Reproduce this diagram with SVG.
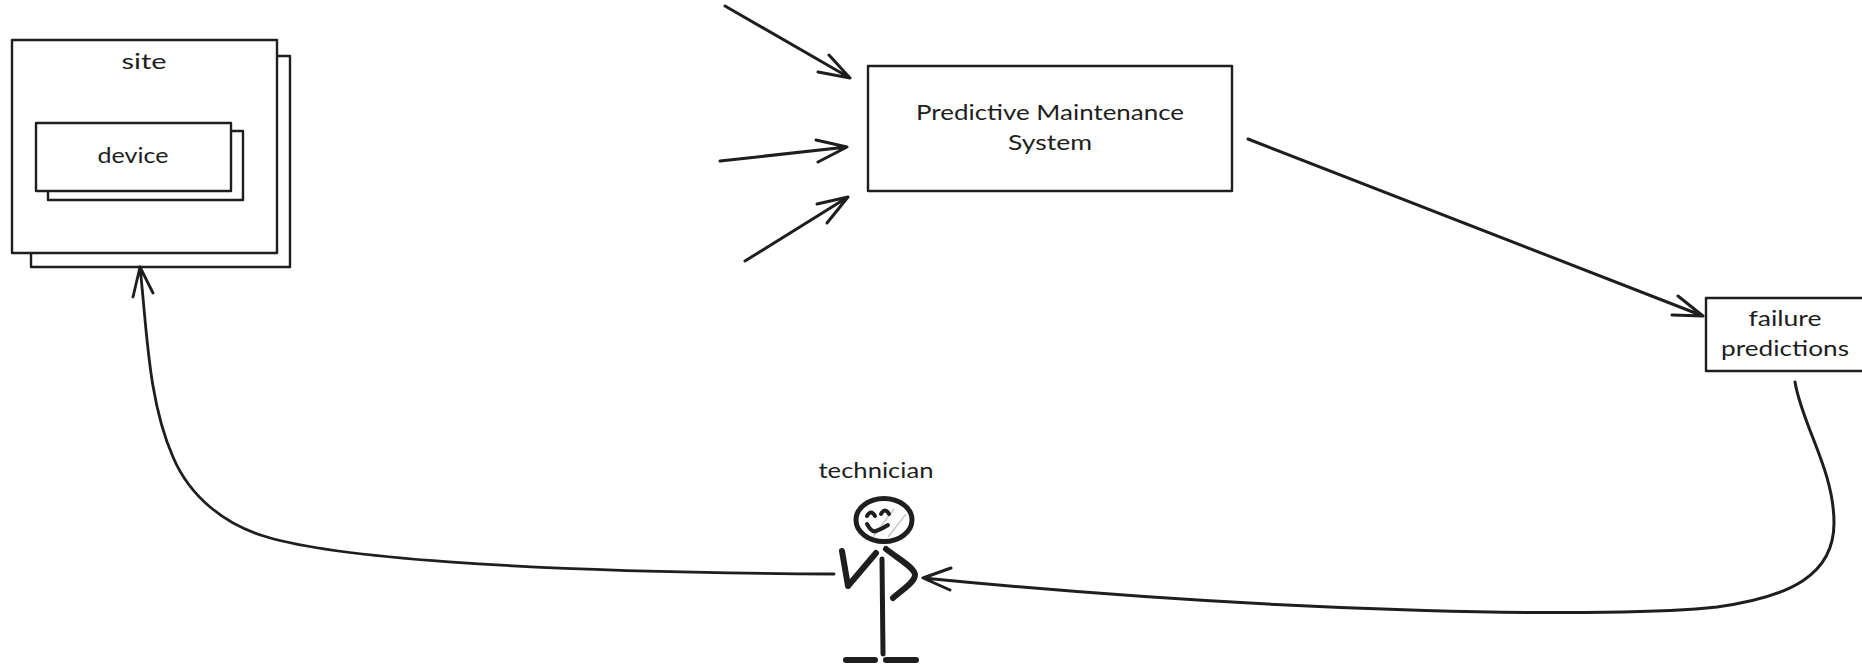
<svg xmlns="http://www.w3.org/2000/svg" width="1862" height="666" viewBox="0 0 1862 666">
<style>
.box{fill:#fff;stroke:#1e1e1e;stroke-width:2.4;stroke-linejoin:round}
.t{font-family:"Lato","Noto Sans",sans-serif;font-size:22px;fill:#1e1e1e;text-anchor:middle}
.c{fill:none;stroke:#1e1e1e;stroke-linecap:round;stroke-linejoin:round}
.fig{fill:none;stroke:#1e1e1e;stroke-width:6;stroke-linecap:round;stroke-linejoin:round}
</style>
<rect width="1862" height="666" fill="#fff"/>
<g id="site">
<rect class="box" x="31" y="56" width="259" height="211"/>
<rect class="box" x="12" y="40" width="265" height="213"/>
<text class="t" x="144" y="69" textLength="45" lengthAdjust="spacingAndGlyphs">site</text>
</g>
<g id="device">
<rect class="box" x="48" y="131" width="195" height="69"/>
<rect class="box" x="36" y="123" width="195" height="68"/>
<text class="t" x="133" y="163" textLength="71" lengthAdjust="spacingAndGlyphs">device</text>
</g>
<g id="system">
<rect class="box" x="868" y="66" width="364" height="125"/>
<text class="t" x="1050" y="120" textLength="268" lengthAdjust="spacingAndGlyphs">Predictive Maintenance</text>
<text class="t" x="1050" y="150" textLength="84" lengthAdjust="spacingAndGlyphs">System</text>
</g>
<g id="failure-predictions">
<path class="box" d="M1862 298H1706V371H1862"/>
<text class="t" x="1785" y="326" textLength="73" lengthAdjust="spacingAndGlyphs">failure</text>
<text class="t" x="1785" y="356" textLength="128" lengthAdjust="spacingAndGlyphs">predictions</text>
</g>
<g id="technician">
<text class="t" x="876" y="478" textLength="115" lengthAdjust="spacingAndGlyphs">technician</text>
<ellipse cx="884" cy="520" rx="28" ry="21.5" fill="none" stroke="#1e1e1e" stroke-width="5"/>
<path d="M873 537L894 509M888 537L906 514" fill="none" stroke="#c8c8c8" stroke-width="1.5"/>
<path class="fig" style="stroke-width:4" d="M867 516Q871 509 875 516M881 514Q885 507 889 514"/>
<path class="fig" style="stroke-width:4" d="M867 524Q872 533 876 531Q882 529 888 525"/>
<path class="fig" d="M842 551L848 586L876 553"/>
<path class="fig" d="M886 549C900 560 915 568 915 575C915 582 902 590 893 598"/>
<path class="fig" style="stroke-width:5" d="M882 559L883 654"/>
<path class="fig" d="M846 660H875M886 660H916"/>
</g>
<g id="connectors">
<path class="c" stroke-width="3" d="M725 6L850 78M829 55L850 78L818 72"/>
<path class="c" stroke-width="3" d="M720 161L847 147M816 140L847 147L818 162"/>
<path class="c" stroke-width="3" d="M745 261L848 197M817 204L848 197L827 223"/>
<path class="c" stroke-width="3" d="M1248 139L1703 316M1678 296L1703 316L1672 315"/>
<path class="c" stroke-width="2.8" d="M834 574C500 572 330 556 267 537C225 525 190 497 173 457C148 400 147 330 140 267M133 297L140 267L153 293"/>
<path class="c" stroke-width="3" d="M1795 382C1802 425 1834 470 1834 523C1834 575 1790 597 1717 607C1620 618 1300 615 923 578M951 568L923 578L950 590"/>
</g>
</svg>
